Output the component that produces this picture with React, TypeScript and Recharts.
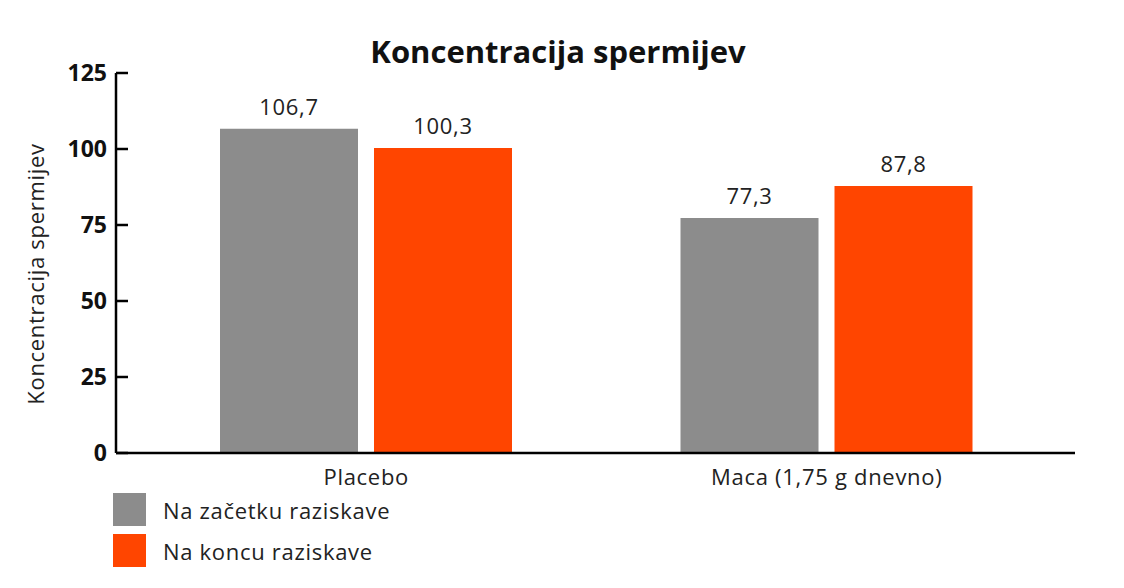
import { BarChart, Bar, XAxis, YAxis, LabelList } from 'recharts';

const categories = ['Placebo', 'Maca (1,75 g dnevno)'];
const startValues = [106.7, 77.3];
const endValues = [100.3, 87.8];
const yTicks = [0, 25, 50, 75, 100, 125];
const seriesNames = ['Na začetku raziskave', 'Na koncu raziskave'];
const seriesColors = ['#8c8c8c', '#ff4500'];

const data = categories.map((name, i) => ({
  name,
  start: startValues[i],
  end: endValues[i],
}));

const font = "'Open Sans', 'Noto Sans', sans-serif";
const textStyle = { fontSize: 22, fill: '#222', fontFamily: font, letterSpacing: 0.7 };

// y ticks: tick mark points inward (to the right of the axis line)
const YTick = (props: any) => {
  const { x, y, payload } = props;
  return (
    <g>
      <line x1={x + 9} y1={y} x2={x + 21} y2={y} stroke="#000" strokeWidth={2.5} />
      <text x={x} y={y} dy={8} textAnchor="end" fontSize={23} fontWeight={700} fill="#111" fontFamily={font}>
        {payload.value}
      </text>
    </g>
  );
};

const YLabel = () => (
  <text
    x={35}
    y={274}
    transform="rotate(-90 35 274)"
    textAnchor="middle"
    dominantBaseline="central"
    style={textStyle}
  >
    Koncentracija spermijev
  </text>
);

const fmt = (v: any) => String(v).replace('.', ',');

export default function App() {
  return (
    <div style={{ position: 'absolute', left: 0, top: 0, width: 1124, height: 588, background: '#fff', fontFamily: font }}>
      <div style={{ position: 'absolute', left: 0, top: 30, width: 1116, textAlign: 'center', fontSize: 31, fontWeight: 700, color: '#111' }}>
        Koncentracija spermijev
      </div>
      <BarChart
        width={1124}
        height={588}
        data={data}
        margin={{ top: 73, right: 49, bottom: 100, left: 0 }}
        barSize={138}
        barGap={16}
      >
        <XAxis
          dataKey="name"
          height={35}
          padding={{ left: 20, right: 18 }}
          axisLine={{ stroke: '#000', strokeWidth: 2.5 }}
          tickLine={false}
          tick={textStyle}
          tickMargin={10}
        />
        <YAxis
          width={116}
          domain={[0, 125]}
          ticks={yTicks}
          axisLine={{ stroke: '#000', strokeWidth: 2.5 }}
          tickLine={false}
          tickSize={0}
          tickMargin={9}
          tick={<YTick />}
          label={{ content: <YLabel /> }}
        />
        <Bar dataKey="start" name={seriesNames[0]} fill={seriesColors[0]} isAnimationActive={false}>
          <LabelList dataKey="start" position="top" offset={14} formatter={fmt} style={textStyle} />
        </Bar>
        <Bar dataKey="end" name={seriesNames[1]} fill={seriesColors[1]} isAnimationActive={false}>
          <LabelList dataKey="end" position="top" offset={14} formatter={fmt} style={textStyle} />
        </Bar>
      </BarChart>
      <div style={{ position: 'absolute', left: 113, top: 493 }}>
        {seriesNames.map((n, i) => (
          <div key={n} style={{ display: 'flex', alignItems: 'center', height: 33, marginBottom: 8 }}>
            <div style={{ width: 33, height: 33, background: seriesColors[i] }} />
            <span style={{ marginLeft: 17, fontSize: 22, letterSpacing: 0.7, color: '#222' }}>{n}</span>
          </div>
        ))}
      </div>
    </div>
  );
}
